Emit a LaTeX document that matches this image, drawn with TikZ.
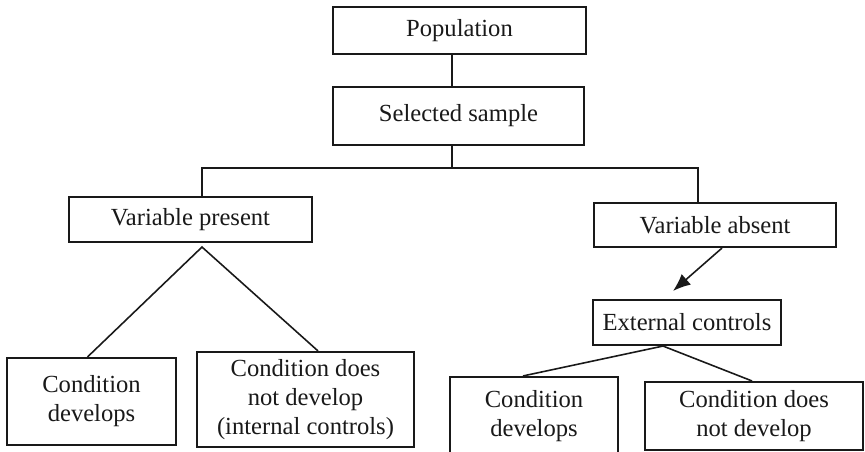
\documentclass[tikz,border=0pt]{standalone}
\usepackage{fontspec}
\setmainfont{Liberation Serif}
\usetikzlibrary{positioning,calc,arrows.meta}

\begin{document}
\begin{tikzpicture}[x=0.02cm,y=-0.02cm,
    box/.style={draw=black!90, line width=1.2pt, inner sep=0pt, align=center,
        font=\fontsize{14}{16.5}\selectfont, text=black!90},
    link/.style={draw=black!90, line width=0.9pt}]
    % Page size
    \useasboundingbox (0,0) rectangle (865,452);

    % Top of the chart
    \node[box, minimum width=5.06cm, minimum height=0.94cm] (pop) at (459.5,30.5) {Population};
    \node[box, minimum width=5.02cm, minimum height=1.16cm] (sel) at (458.5,116) {Selected sample};

    % Second level
    \node[box, minimum width=4.86cm, minimum height=0.9cm] (vpres) at (190.5,219.5) {Variable present};
    \node[box, minimum width=4.84cm, minimum height=0.88cm] (vabs) at (715,225) {Variable absent};
    \node[box, minimum width=3.76cm, minimum height=0.9cm] (ext) at (687,322.5) {External controls};

    % Outcome boxes
    \node[box, minimum width=3.38cm, minimum height=1.74cm] (devA) at (91.5,401.5) {Condition\\develops};
    \node[box, minimum width=4.34cm, minimum height=1.9cm] (nodevA) at (305.5,399.5) {Condition does\\not develop\\(internal controls)};
    \node[box, minimum width=3.36cm, minimum height=1.58cm] (devB) at (534,416.5) {Condition\\develops};
    \node[box, minimum width=4.36cm, minimum height=1.36cm] (nodevB) at (754,416) {Condition does\\not develop};

    % Branch points
    \coordinate (trunk) at (452,168);
    \coordinate (left) at (202,168);
    \coordinate (right) at (698,168);

    % Connectors
    \draw[link] (trunk |- pop.south) -- (trunk |- sel.north);
    \draw[link] (trunk |- sel.south) -- (trunk);
    \draw[link] (left |- vpres.north) -- (left) -- (right) -- (right |- vabs.north);
    \draw[link, -{Latex[length=10pt,width=8pt]}] ($(vabs.south)+(7,0)$) -- ($(ext.north)+(-14,-8)$);

    % Split lines
    \draw[link] ($(devA.north)+(-4,0)$) -- ($(vpres.south)+(11.5,4)$) -- ($(nodevA.north)+(12.5,0)$);
    \draw[link] ($(devB.north)+(-11,0)$) -- ($(ext.south)+(-24,0)$) -- ($(nodevB.north)+(-2,0)$);
\end{tikzpicture}
\end{document}
